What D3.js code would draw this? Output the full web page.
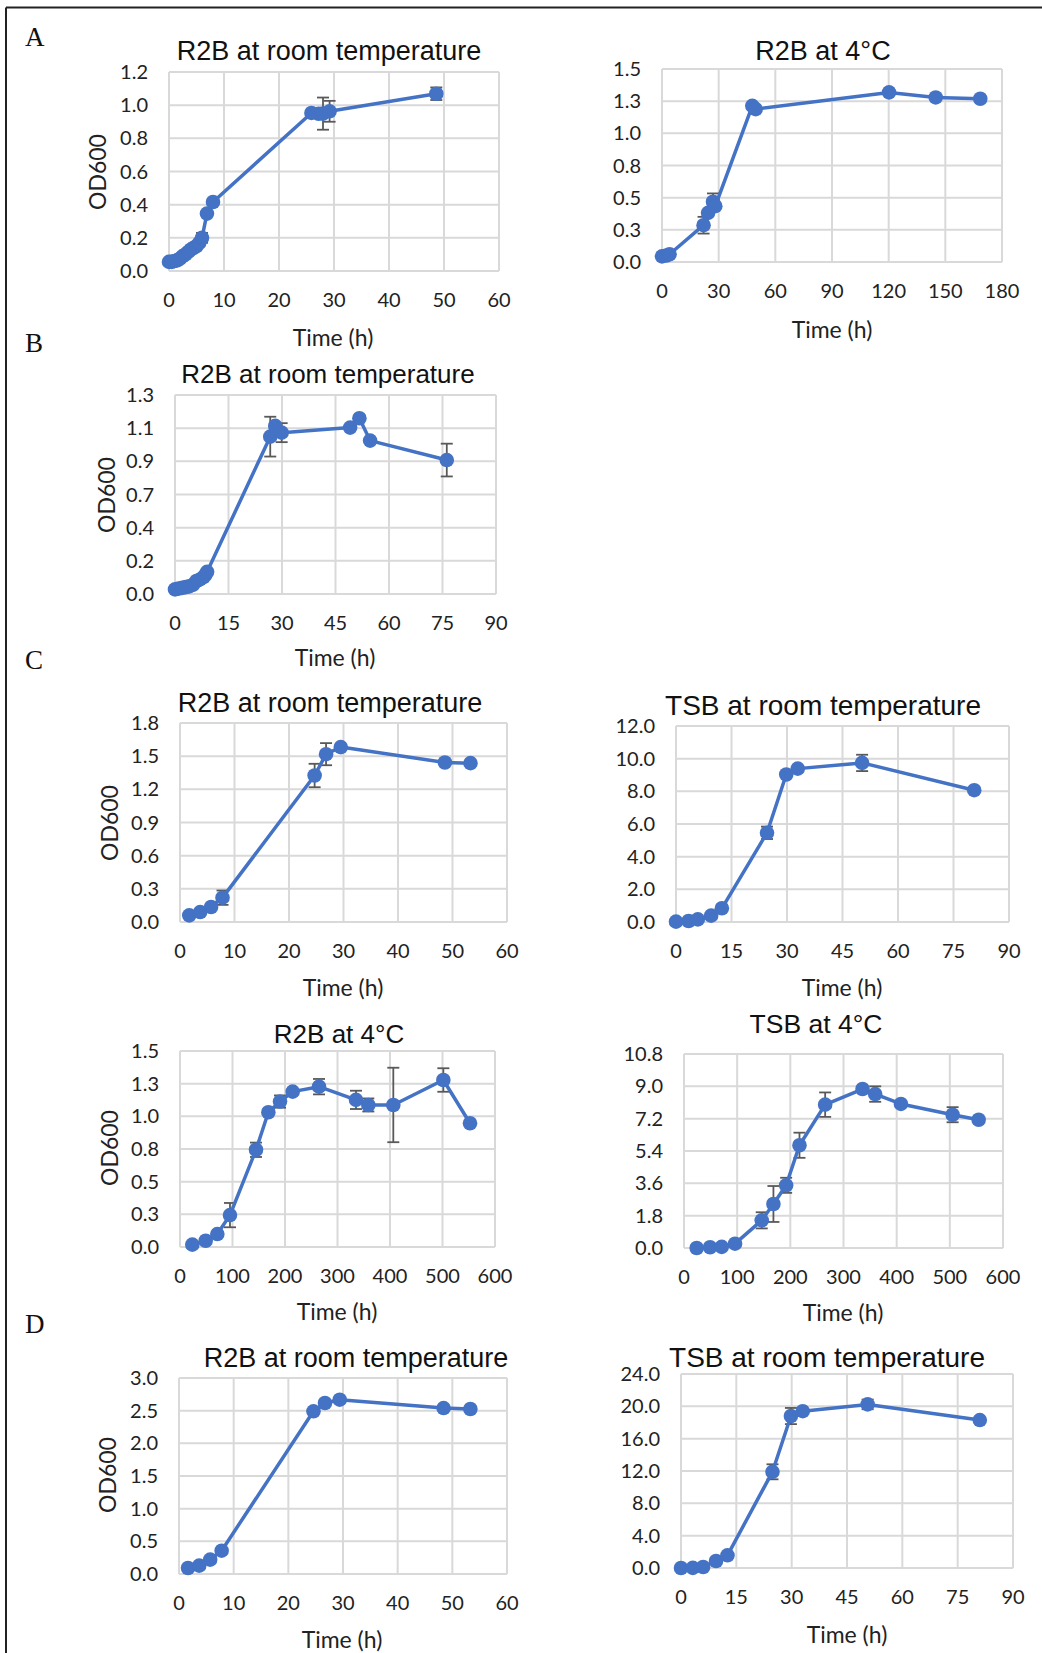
<!DOCTYPE html>
<html>
<head>
<meta charset="utf-8">
<script src="https://cdn.jsdelivr.net/npm/d3@7"></script>
<style>
  body { margin: 0; background: #fff; }
  svg { display: block; }
</style>
</head>
<body>
<div id="chart"></div>
<script>
// Growth curves (OD600 vs time)

// Panel A, left: R2B at room temperature
const a1Time = [0, 0.5, 1, 1.5, 2, 2.5, 3, 3.5, 4, 4.5, 5, 5.5, 6, 6.9, 8, 25.9, 27.2, 28, 29.2, 48.6];
const a1OD   = [0.055, 0.055, 0.06, 0.065, 0.075, 0.09, 0.1, 0.115, 0.13, 0.14, 0.15, 0.17, 0.2, 0.346, 0.416, 0.953, 0.948, 0.949, 0.963, 1.069];
const a1Err  = [0, 0, 0, 0, 0, 0, 0, 0, 0, 0, 0, 0, 0.03, 0, 0, 0, 0, 0.097, 0.063, 0.038];

// Panel A, right: R2B at 4°C
const a2Time = [0, 2.3, 4, 22, 24.4, 27, 28.2, 47.8, 49.6, 120.2, 144.9, 168.5];
const a2OD   = [0.044, 0.05, 0.06, 0.286, 0.382, 0.468, 0.434, 1.214, 1.188, 1.318, 1.279, 1.269];
const a2Err  = [0, 0, 0, 0.065, 0, 0.065, 0, 0, 0, 0, 0, 0];

// Panel B: R2B at room temperature
const bTime = [0, 1, 2, 3, 4, 5, 6, 7, 8, 8.5, 9, 26.7, 28.1, 29.9, 49.1, 51.7, 54.7, 76.2];
const bOD   = [0.03, 0.035, 0.04, 0.045, 0.05, 0.06, 0.085, 0.095, 0.11, 0.125, 0.145, 1.028, 1.098, 1.054, 1.087, 1.148, 1.002, 0.875];
const bErr  = [0, 0, 0, 0, 0, 0, 0, 0, 0, 0, 0, 0.13, 0, 0.062, 0, 0, 0, 0.107];

// Panel C
const c1Time = [1.7, 3.7, 5.7, 7.8, 24.7, 26.8, 29.5, 48.6, 53.3];
const c1OD   = [0.06, 0.09, 0.136, 0.22, 1.325, 1.518, 1.582, 1.443, 1.437];
const c1Err  = [0, 0, 0, 0.065, 0.106, 0.1, 0, 0, 0];

const c2Time = [0, 3.4, 5.9, 9.5, 12.4, 24.6, 29.8, 32.9, 50.3, 80.6];
const c2OD   = [0.02, 0.06, 0.16, 0.39, 0.84, 5.46, 9.03, 9.39, 9.74, 8.07];
const c2Err  = [0, 0, 0, 0, 0, 0.38, 0, 0, 0.5, 0];

const c3Time = [23.5, 48.9, 71.1, 95.2, 144.8, 168.3, 190.5, 214.6, 264.8, 335.2, 358.7, 406.3, 501.6, 552.4];
const c3OD   = [0.018, 0.048, 0.099, 0.244, 0.744, 1.031, 1.113, 1.189, 1.227, 1.126, 1.087, 1.087, 1.278, 0.947];
const c3Err  = [0, 0, 0, 0.093, 0.055, 0, 0.047, 0, 0.059, 0.07, 0.05, 0.285, 0.09, 0];

const c4Time = [23.8, 49, 70.9, 96, 146.2, 168.2, 192.1, 217.2, 265.5, 335.8, 359.6, 408, 505.2, 554.2];
const c4OD   = [0.0, 0.04, 0.06, 0.24, 1.54, 2.45, 3.49, 5.72, 7.98, 8.85, 8.57, 8.02, 7.42, 7.14];
const c4Err  = [0, 0, 0, 0, 0.45, 1.0, 0.42, 0.7, 0.68, 0, 0.43, 0, 0.42, 0];

// Panel D
const d1Time = [1.65, 3.7, 5.7, 7.8, 24.6, 26.7, 29.4, 48.4, 53.3];
const d1OD   = [0.092, 0.128, 0.22, 0.357, 2.49, 2.617, 2.668, 2.54, 2.526];
const d1Err  = [0, 0, 0, 0, 0, 0, 0, 0, 0];

const d2Time = [0, 3.2, 6, 9.5, 12.6, 24.8, 29.8, 33, 50.6, 81];
const d2OD   = [0, 0.02, 0.12, 0.87, 1.57, 11.9, 18.8, 19.4, 20.24, 18.3];
const d2Err  = [0, 0, 0, 0, 0, 0.93, 1.0, 0, 0.6, 0];

// Axis tick values and their labels (Excel style)
const xTicks60  = [0, 10, 20, 30, 40, 50, 60];
const xTicks90  = [0, 15, 30, 45, 60, 75, 90];
const xTicks180 = [0, 30, 60, 90, 120, 150, 180];
const xTicks600 = [0, 100, 200, 300, 400, 500, 600];

const yTicksA1 = [0, 0.2, 0.4, 0.6, 0.8, 1.0, 1.2];
const yLabelsA1 = ['0.0', '0.2', '0.4', '0.6', '0.8', '1.0', '1.2'];
const yTicks15 = [0, 0.25, 0.5, 0.75, 1.0, 1.25, 1.5];
const yLabels15 = ['0.0', '0.3', '0.5', '0.8', '1.0', '1.3', '1.5'];
const yTicksB = [0, 1.3 / 6, 2.6 / 6, 3.9 / 6, 5.2 / 6, 6.5 / 6, 1.3];
const yLabelsB = ['0.0', '0.2', '0.4', '0.7', '0.9', '1.1', '1.3'];
const yTicksC1 = [0, 0.3, 0.6, 0.9, 1.2, 1.5, 1.8];
const yLabelsC1 = ['0.0', '0.3', '0.6', '0.9', '1.2', '1.5', '1.8'];
const yTicksC2 = [0, 2, 4, 6, 8, 10, 12];
const yLabelsC2 = ['0.0', '2.0', '4.0', '6.0', '8.0', '10.0', '12.0'];
const yTicksC4 = [0, 1.8, 3.6, 5.4, 7.2, 9.0, 10.8];
const yLabelsC4 = ['0.0', '1.8', '3.6', '5.4', '7.2', '9.0', '10.8'];
const yTicksD1 = [0, 0.5, 1.0, 1.5, 2.0, 2.5, 3.0];
const yLabelsD1 = ['0.0', '0.5', '1.0', '1.5', '2.0', '2.5', '3.0'];
const yTicksD2 = [0, 4, 8, 12, 16, 20, 24];
const yLabelsD2 = ['0.0', '4.0', '8.0', '12.0', '16.0', '20.0', '24.0'];

const panelLetters = ['A', 'B', 'C', 'D'];

const W = 1042, H = 1653;
const BLUE = '#4472C4';
const GRID = '#d9d9d9';
const ERRC = '#595959';
const TITLE_FONT = '"Liberation Sans", Arial, sans-serif';
const TICK_FONT = 'Lato, "Open Sans", sans-serif';

const svg = d3.select('#chart').append('svg')
    .attr('width', W).attr('height', H)
    .attr('viewBox', `0 0 ${W} ${H}`);

svg.append('rect').attr('width', W).attr('height', H).attr('fill', '#fff');

// frame: only the left and top edges are visible
svg.append('line').attr('x1', 6).attr('y1', 7.5).attr('x2', W).attr('y2', 7.5)
    .attr('stroke', '#222').attr('stroke-width', 2);
svg.append('line').attr('x1', 6).attr('y1', 7.5).attr('x2', 6).attr('y2', H)
    .attr('stroke', '#222').attr('stroke-width', 2);

// panel letters
const letterY = [37, 343, 660, 1324];
panelLetters.forEach((l, i) => {
    svg.append('text')
        .attr('x', 25).attr('y', letterY[i] + 9)
        .attr('font-family', '"Liberation Serif", "Times New Roman", serif')
        .attr('font-size', 27)
        .attr('fill', '#111')
        .text(l);
});

function drawPanel(p) {
    const x = d3.scaleLinear().domain([p.xTicks[0], p.xTicks[p.xTicks.length - 1]]).range([p.x0, p.x1]);
    const y = d3.scaleLinear().domain([p.yTicks[0], p.yTicks[p.yTicks.length - 1]]).range([p.y1, p.y0]);
    const g = svg.append('g');

    // grid
    g.selectAll('.vg').data(p.xTicks).enter().append('line')
        .attr('x1', d => x(d)).attr('x2', d => x(d))
        .attr('y1', p.y0).attr('y2', p.y1)
        .attr('stroke', GRID).attr('stroke-width', 2);
    g.selectAll('.hg').data(p.yTicks).enter().append('line')
        .attr('x1', p.x0).attr('x2', p.x1)
        .attr('y1', d => y(d)).attr('y2', d => y(d))
        .attr('stroke', GRID).attr('stroke-width', 2);

    // tick labels
    g.selectAll('.yl').data(p.yTicks).enter().append('text')
        .attr('x', p.x0 - 21).attr('y', d => y(d) + 7)
        .attr('text-anchor', 'end')
        .attr('font-family', TICK_FONT).attr('font-size', 20).attr('fill', '#222')
        .text((d, i) => p.yLabels[i]);
    g.selectAll('.xl').data(p.xTicks).enter().append('text')
        .attr('x', d => x(d)).attr('y', p.y1 + 36)
        .attr('text-anchor', 'middle')
        .attr('font-family', TICK_FONT).attr('font-size', 20).attr('fill', '#222')
        .text(d => d);

    // titles
    g.append('text')
        .attr('x', p.title[0]).attr('y', p.title[1] + 10)
        .attr('text-anchor', 'middle')
        .attr('font-family', TITLE_FONT).attr('font-size', p.titleSize).attr('fill', '#111')
        .text(p.titleText);
    g.append('text')
        .attr('x', p.xTitle[0]).attr('y', p.xTitle[1] + 8)
        .attr('text-anchor', 'middle')
        .attr('font-family', TICK_FONT).attr('font-size', 23).attr('fill', '#222')
        .text('Time (h)');
    if (p.yTitle) {
        g.append('text')
            .attr('transform', `translate(${p.yTitle[0] + 8},${p.yTitle[1]}) rotate(-90)`)
            .attr('text-anchor', 'middle')
            .attr('font-family', TICK_FONT).attr('font-size', 23).attr('fill', '#222')
            .text('OD600');
    }

    const pts = p.time.map((t, i) => ({ t: t, v: p.od[i], e: p.err[i] }));

    // error bars
    const eb = g.selectAll('.eb').data(pts.filter(d => d.e > 0)).enter().append('g');
    eb.append('line')
        .attr('x1', d => x(d.t)).attr('x2', d => x(d.t))
        .attr('y1', d => y(d.v - d.e)).attr('y2', d => y(d.v + d.e))
        .attr('stroke', ERRC).attr('stroke-width', 1.8);
    [-1, 1].forEach(s => {
        eb.append('line')
            .attr('x1', d => x(d.t) - 6).attr('x2', d => x(d.t) + 6)
            .attr('y1', d => y(d.v + s * d.e)).attr('y2', d => y(d.v + s * d.e))
            .attr('stroke', ERRC).attr('stroke-width', 1.8);
    });

    // line
    const line = d3.line().x(d => x(d.t)).y(d => y(d.v));
    g.append('path').datum(pts)
        .attr('d', line)
        .attr('fill', 'none').attr('stroke', BLUE).attr('stroke-width', 3.5)
        .attr('stroke-linejoin', 'round');

    // markers
    g.selectAll('.pt').data(pts).enter().append('circle')
        .attr('cx', d => x(d.t)).attr('cy', d => y(d.v))
        .attr('r', 7.3).attr('fill', BLUE);
}

const panels = [
    { time: a1Time, od: a1OD, err: a1Err, xTicks: xTicks60, yTicks: yTicksA1, yLabels: yLabelsA1,
      x0: 169, x1: 499, y0: 72, y1: 271, titleText: 'R2B at room temperature', titleSize: 27,
      title: [329, 50], xTitle: [333, 338], yTitle: [98, 172] },
    { time: a2Time, od: a2OD, err: a2Err, xTicks: xTicks180, yTicks: yTicks15, yLabels: yLabels15,
      x0: 662, x1: 1002, y0: 69, y1: 262, titleText: 'R2B at 4°C', titleSize: 27,
      title: [823, 50], xTitle: [832, 330] },
    { time: bTime, od: bOD, err: bErr, xTicks: xTicks90, yTicks: yTicksB, yLabels: yLabelsB,
      x0: 175, x1: 496, y0: 395, y1: 594, titleText: 'R2B at room temperature', titleSize: 26,
      title: [328, 373], xTitle: [335, 658], yTitle: [107, 495] },
    { time: c1Time, od: c1OD, err: c1Err, xTicks: xTicks60, yTicks: yTicksC1, yLabels: yLabelsC1,
      x0: 180, x1: 507, y0: 723, y1: 922, titleText: 'R2B at room temperature', titleSize: 27,
      title: [330, 702], xTitle: [343, 988], yTitle: [110, 823] },
    { time: c2Time, od: c2OD, err: c2Err, xTicks: xTicks90, yTicks: yTicksC2, yLabels: yLabelsC2,
      x0: 676, x1: 1009, y0: 726, y1: 922, titleText: 'TSB at room temperature', titleSize: 28,
      title: [823, 705], xTitle: [842, 988] },
    { time: c3Time, od: c3OD, err: c3Err, xTicks: xTicks600, yTicks: yTicks15, yLabels: yLabels15,
      x0: 180, x1: 495, y0: 1051, y1: 1247, titleText: 'R2B at 4°C', titleSize: 26,
      title: [339, 1033], xTitle: [337, 1312], yTitle: [110, 1148] },
    { time: c4Time, od: c4OD, err: c4Err, xTicks: xTicks600, yTicks: yTicksC4, yLabels: yLabelsC4,
      x0: 684, x1: 1003, y0: 1054, y1: 1248, titleText: 'TSB at 4°C', titleSize: 26.5,
      title: [816, 1023], xTitle: [843, 1313] },
    { time: d1Time, od: d1OD, err: d1Err, xTicks: xTicks60, yTicks: yTicksD1, yLabels: yLabelsD1,
      x0: 179, x1: 507, y0: 1378, y1: 1574, titleText: 'R2B at room temperature', titleSize: 27,
      title: [356, 1357], xTitle: [342, 1640], yTitle: [108, 1475] },
    { time: d2Time, od: d2OD, err: d2Err, xTicks: xTicks90, yTicks: yTicksD2, yLabels: yLabelsD2,
      x0: 681, x1: 1013, y0: 1374, y1: 1568, titleText: 'TSB at room temperature', titleSize: 28,
      title: [827, 1357], xTitle: [847, 1635] }
];

panels.forEach(drawPanel);
</script>
</body>
</html>
